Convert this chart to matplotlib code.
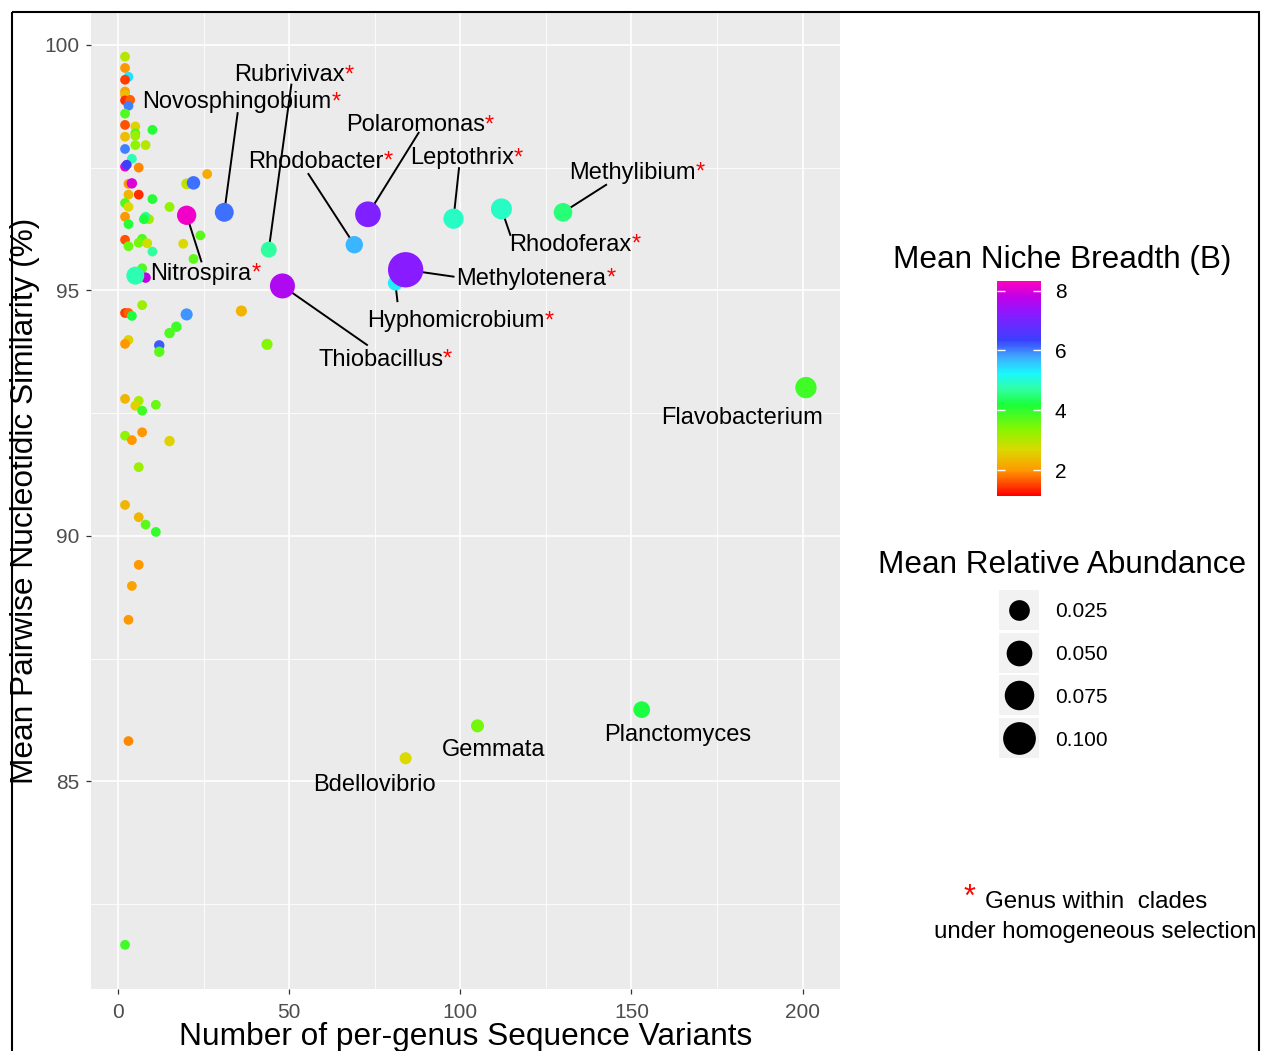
import numpy as np
import matplotlib
matplotlib.use("Agg")
import matplotlib.pyplot as plt
from matplotlib.colors import LinearSegmentedColormap, Normalize
from matplotlib.patches import Rectangle

plt.rcParams['font.family'] = ['Liberation Sans', 'DejaVu Sans']

# ---------------- data: genera without label ----------------
sv_count = [2, 2, 3, 2, 2, 2, 2, 3.5, 3, 2, 2, 5, 5, 5, 10, 2, 5, 8, 2, 4,
            2, 2.5, 6, 3, 4, 20, 22, 26, 6, 3, 10, 2, 3, 15, 2, 9, 8, 7.5, 3, 24,
            2, 7, 6, 3, 8.5, 19, 10, 22, 7, 8, 5, 7, 2, 3, 4, 20, 36, 17, 15, 3,
            2, 12, 12, 43.5, 2, 6, 5, 7, 11, 2, 4, 7, 15, 6, 2, 6, 8, 11, 6, 4,
            3, 3, 2]
similarity = [99.76, 99.53, 99.35, 99.29, 99.05, 98.98, 98.87, 98.88, 98.76, 98.60,
              98.37, 98.34, 98.20, 98.15, 98.27, 98.13, 97.96, 97.96, 97.88, 97.68,
              97.52, 97.56, 97.50, 97.17, 97.18, 97.17, 97.19, 97.37, 96.95, 96.95,
              96.86, 96.78, 96.70, 96.70, 96.50, 96.45, 96.50, 96.45, 96.35, 96.12,
              96.03, 96.05, 95.97, 95.90, 95.96, 95.95, 95.79, 95.64, 95.45, 95.26,
              95.30, 94.70, 94.54, 94.54, 94.48, 94.51, 94.58, 94.26, 94.13, 93.99,
              93.91, 93.88, 93.75, 93.90, 92.79, 92.75, 92.65, 92.55, 92.67, 92.04,
              91.95, 92.11, 91.93, 91.40, 90.63, 90.38, 90.23, 90.08, 89.41, 88.98,
              88.29, 85.82, 81.67]
niche_breadth = [3.0, 2.0, 5.4, 1.5, 2.1, 2.4, 1.4, 1.7, 6.0, 3.8,
                 1.6, 2.6, 3.8, 3.2, 4.1, 2.4, 3.3, 3.0, 6.0, 4.8,
                 8.2, 6.4, 1.9, 2.0, 8.0, 2.9, 6.1, 2.2, 1.4, 2.3,
                 4.1, 3.8, 2.7, 3.3, 2.0, 3.1, 4.6, 4.2, 4.1, 3.7,
                 1.6, 3.8, 3.5, 3.6, 2.8, 2.7, 4.7, 3.7, 3.8, 7.8,
                 4.8, 3.2, 1.5, 1.7, 4.2, 5.9, 2.3, 3.9, 3.8, 2.6,
                 2.0, 6.2, 3.7, 3.4, 2.3, 3.1, 2.6, 3.9, 3.6, 3.3,
                 2.0, 2.0, 2.6, 3.2, 2.3, 2.3, 3.7, 4.0, 2.0, 2.1,
                 2.0, 1.9, 3.9]
rel_abundance = [0.0002] * 83
rel_abundance[24] = 0.0005
rel_abundance[25] = 0.0008
rel_abundance[26] = 0.004
rel_abundance[49] = 0.0005
rel_abundance[50] = 0.015
rel_abundance[55] = 0.002
rel_abundance[56] = 0.001
rel_abundance[57] = 0.0005
rel_abundance[58] = 0.0005
rel_abundance[61] = 0.0005
rel_abundance[62] = 0.0005
rel_abundance[63] = 0.001
rel_abundance[72] = 0.0005

# ---------------- data: labelled genera ----------------
genus = ['Rubrivivax', 'Novosphingobium', 'Polaromonas', 'Rhodobacter', 'Leptothrix',
         'Methylibium', 'Rhodoferax', 'Nitrospira', 'Methylotenera', 'Hyphomicrobium',
         'Thiobacillus', 'Flavobacterium', 'Planctomyces', 'Gemmata', 'Bdellovibrio']
genus_sv = [44, 31, 73, 69, 98, 130, 112, 20, 84, 81, 48, 201, 153, 105, 84]
genus_sim = [95.83, 96.59, 96.55, 95.93, 96.46, 96.59, 96.66, 96.53, 95.42, 95.15,
             95.09, 93.02, 86.46, 86.13, 85.47]
genus_niche = [4.7, 6.1, 7.1, 5.7, 4.9, 4.5, 4.9, 8.2, 7.2, 5.3, 7.6, 3.9, 4.2, 3.5, 2.7]
genus_abund = [0.009, 0.018, 0.050, 0.013, 0.023, 0.017, 0.026, 0.0195, 0.1225, 0.007,
               0.046, 0.0275, 0.011, 0.0032, 0.0019]
homogeneous = [True] * 11 + [False] * 4

size_breaks = [0.025, 0.050, 0.075, 0.100]
niche_ticks = [2, 4, 6, 8]

# label text (left, middle) and end of leader line, in data units
label_pos = {
    'Rubrivivax': (33.9, 99.43, 50.6, 99.19),
    'Novosphingobium': (7.0, 98.88, 34.9, 98.61),
    'Polaromonas': (66.6, 98.41, 87.8, 98.21),
    'Rhodobacter': (38.0, 97.66, 55.6, 97.37),
    'Leptothrix': (85.3, 97.74, 99.6, 97.49),
    'Methylibium': (131.8, 97.44, 142.6, 97.15),
    'Rhodoferax': (114.3, 95.97, 114.6, 96.13),
    'Nitrospira': (9.35, 95.38, 24.3, 95.59),
    'Methylotenera': (98.8, 95.28, 98.0, 95.28),
    'Hyphomicrobium': (72.8, 94.42, 81.6, 94.78),
    'Thiobacillus': (58.4, 93.63, 72.7, 93.89),
    'Flavobacterium': (158.7, 92.45, None, None),
    'Planctomyces': (142.0, 85.98, None, None),
    'Gemmata': (94.7, 85.69, None, None),
    'Bdellovibrio': (57.0, 84.98, None, None),
}

W, H, DPI = 1263, 1051, 100

# rainbow palette for niche breadth
vmin, vmax = 1.14, 8.32
stops = [(1.14, '#FF0000'), (2.0, '#FF9A00'), (2.67, '#DDD800'), (3.34, '#8AF500'),
         (4.18, '#1AFF3A'), (4.7, '#30FFA0'), (5.24, '#1AF8FF'), (5.8, '#40A8FF'),
         (6.35, '#3A40FF'), (7.24, '#8A1AFF'), (7.8, '#C000E8'), (8.32, '#FF00C0')]
cmap = LinearSegmentedColormap.from_list(
    'niche', [((v - vmin) / (vmax - vmin), c) for v, c in stops])
norm = Normalize(vmin, vmax)


def point_area(a):
    # point diameter grows with sqrt of abundance (pixels -> points^2)
    d_px = 8.7 + 76 * np.sqrt(np.asarray(a))
    return (d_px * 72 / DPI) ** 2


def px_box(x0, y0, x1, y1):
    return [x0 / W, 1 - y1 / H, (x1 - x0) / W, (y1 - y0) / H]


fig = plt.figure(figsize=(W / DPI, H / DPI), dpi=DPI)
ax = fig.add_axes(px_box(91, 12.5, 840, 989))

ax.set_facecolor('#EBEBEB')
for s in ax.spines.values():
    s.set_visible(False)
ax.set_xlim(-7.95, 210.95)
ax.set_ylim(80.77, 100.66)
ax.set_xticks([0, 50, 100, 150, 200])
ax.set_xticks([25, 75, 125, 175], minor=True)
ax.set_yticks([85, 90, 95, 100])
ax.set_yticks([82.5, 87.5, 92.5, 97.5], minor=True)
ax.grid(which='major', color='white', lw=1.2)
ax.grid(which='minor', color='white', lw=0.6)
ax.set_axisbelow(True)
ax.tick_params(which='major', length=3.3, width=0.9, color='#333333',
               labelcolor='#4D4D4D', labelsize=15, pad=5)
ax.tick_params(axis='x', which='major', pad=6.5)
ax.tick_params(which='minor', length=0)

# all points drawn together, small ones first
all_x = np.array(sv_count + genus_sv, dtype=float)
all_y = np.array(similarity + genus_sim)
all_c = np.array(niche_breadth + genus_niche)
all_a = np.array(rel_abundance + genus_abund)
order = np.argsort(all_a, kind='stable')
sc = ax.scatter(all_x[order], all_y[order], c=all_c[order], s=point_area(all_a[order]),
                cmap=cmap, norm=norm, linewidths=0, zorder=3)

# labels with leader lines
for g, gx, gy, star in zip(genus, genus_sv, genus_sim, homogeneous):
    lx, ly, ex, ey = label_pos[g]
    if ex is not None:
        ax.plot([gx, ex], [gy, ey], color='black', lw=1.4, zorder=2)
    t = ax.text(lx, ly - 0.045, g, fontsize=17, ha='left', va='center', zorder=4)
    if star:
        ax.annotate('*', xy=(1, 0.5), xycoords=t, ha='left', va='center',
                    fontsize=17, color='red', zorder=4)

ax.set_xlabel('Number of per-genus Sequence Variants', fontsize=22.8, labelpad=0)
ax.set_ylabel('Mean Pairwise Nucleotidic Similarity (%)', fontsize=22.8, labelpad=3)

# colour bar
cax = fig.add_axes(px_box(997, 281, 1041, 496))
cb = fig.colorbar(sc, cax=cax, ticks=niche_ticks)
cb.outline.set_visible(False)
cax.tick_params(length=0, labelsize=15, pad=10)
cax.hlines(niche_ticks, 0, 0.18, colors='white', lw=1)
cax.hlines(niche_ticks, 0.82, 1, colors='white', lw=1)

# overlay in pixel units for legend titles, size keys and note
ov = fig.add_axes([0, 0, 1, 1])
ov.set_xlim(0, W)
ov.set_ylim(H, 0)
ov.axis('off')

ov.text(893, 260, 'Mean Niche Breadth (B)', fontsize=22.7, ha='left', va='center')
ov.text(878, 565, 'Mean Relative Abundance', fontsize=22.7, ha='left', va='center')

for i, b in enumerate(size_breaks):
    cy = 609.7 + 42.8 * i
    ov.add_patch(Rectangle((999, cy - 20), 40, 40, fc='#F2F2F2', ec='none'))
    ov.scatter([1019], [cy], s=point_area(b), color='black', linewidths=0)
    ov.text(1055, cy + 2, f'{b:.3f}', fontsize=15, ha='left', va='center')

ov.text(970, 898, '*', fontsize=22, color='red', ha='center', va='center')
ov.text(985, 902, 'Genus within  clades', fontsize=17.4, ha='left', va='center')
ov.text(934, 932, 'under homogeneous selection', fontsize=17.4, ha='left', va='center')

ov.add_patch(Rectangle((12, 12), 1247, 1200, fill=False, ec='black', lw=1.5,
                       clip_on=False))

fig.savefig('out.png', dpi=DPI)
